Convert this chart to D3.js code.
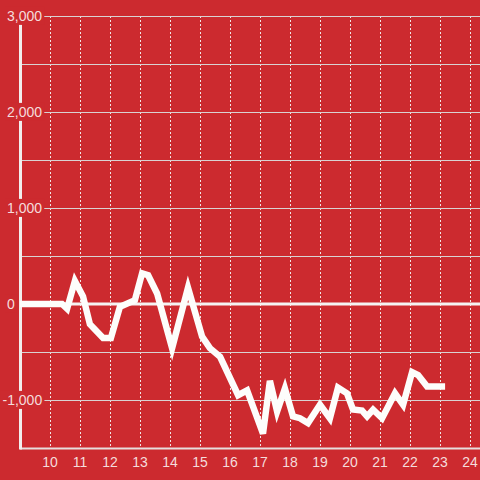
<!DOCTYPE html>
<html>
<head>
<meta charset="utf-8">
<script src="https://cdn.jsdelivr.net/npm/d3@7"></script>
<style>
  html, body { margin: 0; padding: 0; background: #cc2a2f; }
  svg { display: block; }
  text { font-family: "Liberation Sans", Arial, sans-serif; font-size: 14px; fill: #f5dcdc; }
</style>
</head>
<body>
<svg id="chart" width="480" height="480"></svg>
<script>
// Data: hour of day vs value
const hours = [9.0, 10.4, 10.57, 10.83, 11.1, 11.33, 11.77, 12.03, 12.33, 12.83, 13.07, 13.27, 13.57, 14.07, 14.6, 15.07, 15.33, 15.67, 16.27, 16.57, 17.1, 17.33, 17.57, 17.83, 18.1, 18.33, 18.6, 19.0, 19.33, 19.6, 19.9, 20.1, 20.4, 20.57, 20.77, 21.07, 21.5, 21.77, 22.07, 22.27, 22.57, 23.17];
const values = [0, 0, -50, 240, 80, -210, -355, -355, -30, 40, 320, 300, 110, -460, 170, -340, -460, -550, -950, -900, -1350, -800, -1120, -880, -1170, -1190, -1240, -1050, -1190, -870, -930, -1100, -1110, -1170, -1100, -1190, -930, -1050, -710, -740, -860, -860];
const xTicks = [10, 11, 12, 13, 14, 15, 16, 17, 18, 19, 20, 21, 22, 23, 24];
const yGrid = [3000, 2500, 2000, 1500, 1000, 500, 0, -500, -1000, -1500];
const yLabels = [3000, 2000, 1000, 0, -1000];

const svg = d3.select("#chart");
const x = d3.scaleLinear().domain([9, 24 + 1/3]).range([20, 480]);
const y = d3.scaleLinear().domain([-1500, 3000]).range([448, 16]);
const fmt = d3.format(",");

svg.append("rect").attr("width", 480).attr("height", 480).attr("fill", "#cc2a2f");

// vertical dotted gridlines
svg.append("g").selectAll("line").data(xTicks).join("line")
  .attr("x1", d => x(d) + 0.5).attr("x2", d => x(d) + 0.5)
  .attr("y1", y(3000)).attr("y2", y(-1500))
  .attr("stroke", "#f0e6e6").attr("stroke-width", 1).attr("stroke-dasharray", "2,2");

// horizontal gridlines
svg.append("g").selectAll("line").data(yGrid.filter(d => d !== 0 && d !== -1500)).join("line")
  .attr("x1", 20).attr("x2", 480)
  .attr("y1", d => y(d) + 0.5).attr("y2", d => y(d) + 0.5)
  .attr("stroke", "#d9d2d2").attr("stroke-width", 1);

// bottom axis line
svg.append("line").attr("x1", 20).attr("x2", 480)
  .attr("y1", y(-1500) + 0.5).attr("y2", y(-1500) + 0.5)
  .attr("stroke", "#e6dede").attr("stroke-width", 2);

// y axis line
svg.append("line").attr("x1", 20.5).attr("x2", 20.5)
  .attr("y1", y(3000)).attr("y2", y(-1500) + 1.5)
  .attr("stroke", "#f2eeee").attr("stroke-width", 3);

// zero line
svg.append("line").attr("x1", 20).attr("x2", 480)
  .attr("y1", y(0)).attr("y2", y(0))
  .attr("stroke", "#f5f2f2").attr("stroke-width", 3);

// y labels with background (left-aligned digits, minus sign hangs left)
const yl = svg.append("g").selectAll("g").data(yLabels).join("g");
yl.append("text")
  .attr("x", d => d < 0 ? 2.5 : 7)
  .attr("y", d => y(d))
  .attr("dy", "0.35em")
  .attr("text-anchor", "start")
  .text(d => fmt(d).replace("−", "-"));
yl.each(function() {
  const t = d3.select(this).select("text");
  const bb = t.node().getBBox();
  d3.select(this).insert("rect", "text")
    .attr("x", bb.x - 2).attr("y", bb.y - 1)
    .attr("width", bb.width + 4).attr("height", bb.height + 2)
    .attr("fill", "#cc2a2f");
});

// data line
const line = d3.line().x((d, i) => x(hours[i])).y(d => y(d));
svg.append("path").datum(values)
  .attr("d", line)
  .attr("fill", "none")
  .attr("stroke", "#fdfdfb")
  .attr("stroke-width", 6.5)
  .attr("stroke-linejoin", "miter");

// x labels
svg.append("g").selectAll("text").data(xTicks).join("text")
  .attr("x", d => x(d)).attr("y", 467)
  .attr("text-anchor", "middle")
  .text(d => d);
</script>
</body>
</html>
